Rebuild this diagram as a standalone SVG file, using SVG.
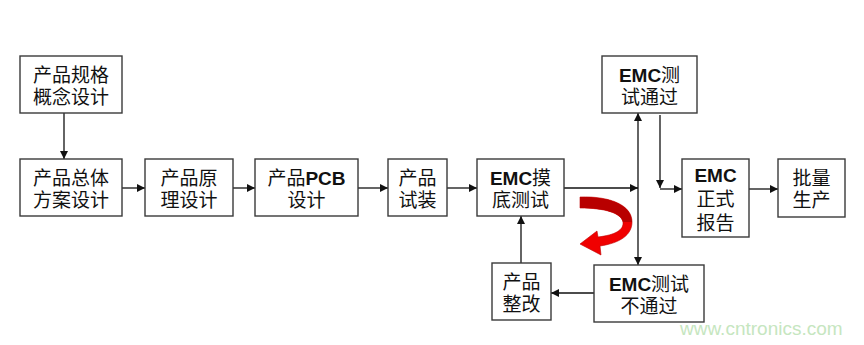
<svg xmlns="http://www.w3.org/2000/svg" width="864" height="345" viewBox="0 0 864 345">
<defs>
<style>
.box{fill:#fff;stroke:#3a3a3a;stroke-width:1.4}
.t{font-family:"Liberation Sans","Noto Sans CJK SC",sans-serif;font-size:19px;fill:#111;text-anchor:middle}
.b{font-weight:bold}
.c{fill:none;stroke:#111;stroke-width:1.3}
.wm{font-family:"Liberation Sans",sans-serif;font-size:19px;fill:#c6e6c0}
</style>
<marker id="ah" viewBox="0 0 10 10" refX="10" refY="5" markerWidth="9" markerHeight="8" markerUnits="userSpaceOnUse" orient="auto">
<path d="M0,0 L10,5 L0,10 Z" fill="#111"/>
</marker>
</defs>
<rect width="864" height="345" fill="#fff"/>
<g id="connectors">
<path class="c" d="M64,113 V159" marker-end="url(#ah)"/>
<path class="c" d="M122,188 H145" marker-end="url(#ah)"/>
<path class="c" d="M233,188 H255" marker-end="url(#ah)"/>
<path class="c" d="M358,188 H388" marker-end="url(#ah)"/>
<path class="c" d="M447,188 H477" marker-end="url(#ah)"/>
<path class="c" d="M564,188 H638" marker-end="url(#ah)"/>
<path class="c" d="M638,188 V113" marker-end="url(#ah)"/>
<path class="c" d="M638,188 V265" marker-end="url(#ah)"/>
<path class="c" d="M660,115 V188" marker-end="url(#ah)"/>
<path class="c" d="M660,189 H682" marker-end="url(#ah)"/>
<path class="c" d="M749,189 H778" marker-end="url(#ah)"/>
<path class="c" d="M594,293 H551" marker-end="url(#ah)"/>
<path class="c" d="M521,263 V216" marker-end="url(#ah)"/>
</g>
<g id="red-arrow">
<path d="M580,197 C610,196 632,205 632,222 C632,235 620,243 600,246 L601,255 L580,244 L597,231 L598,237 C615,235 624,230 623,222 C621,213 605,208 580,208 Z" fill="#f00000" stroke="#c00000" stroke-width="0.6"/>
<path d="M580,197 C610,196 632,205 632,222 L623,222 C621,213 605,208 580,208 Z" fill="#b80000"/>
</g>
<g id="n1"><rect class="box" x="20" y="56" width="102" height="57"/><text class="t" x="71" y="82">产品规格</text><text class="t" x="71" y="104">概念设计</text></g>
<g id="n2"><rect class="box" x="20" y="159" width="102" height="57"/><text class="t" x="71" y="185">产品总体</text><text class="t" x="71" y="207">方案设计</text></g>
<g id="n3"><rect class="box" x="145" y="159" width="88" height="57"/><text class="t" x="189" y="185">产品原</text><text class="t" x="189" y="207">理设计</text></g>
<g id="n4"><rect class="box" x="255" y="159" width="103" height="57"/><text class="t" x="306.5" y="185">产品<tspan class="b">PCB</tspan></text><text class="t" x="306.5" y="207">设计</text></g>
<g id="n5"><rect class="box" x="388" y="159" width="59" height="57"/><text class="t" x="417.5" y="185">产品</text><text class="t" x="417.5" y="207">试装</text></g>
<g id="n6"><rect class="box" x="477" y="159" width="87" height="57"/><text class="t" x="520.5" y="185"><tspan class="b">EMC</tspan>摸</text><text class="t" x="520.5" y="207">底测试</text></g>
<g id="n7"><rect class="box" x="492" y="263" width="59" height="57"/><text class="t" x="521.5" y="289">产品</text><text class="t" x="521.5" y="311">整改</text></g>
<g id="n8"><rect class="box" x="594" y="265" width="110" height="57"/><text class="t" x="649" y="291"><tspan class="b">EMC</tspan>测试</text><text class="t" x="649" y="313">不通过</text></g>
<g id="n9"><rect class="box" x="602" y="56" width="95" height="57"/><text class="t" x="649.5" y="82"><tspan class="b">EMC</tspan>测</text><text class="t" x="649.5" y="104">试通过</text></g>
<g id="n10"><rect class="box" x="682" y="159" width="67" height="78"/><text class="t b" x="715.5" y="182">EMC</text><text class="t" x="715.5" y="206">正式</text><text class="t" x="715.5" y="230">报告</text></g>
<g id="n11"><rect class="box" x="778" y="159" width="67" height="58"/><text class="t" x="811.5" y="185">批量</text><text class="t" x="811.5" y="207">生产</text></g>
<text class="wm" x="680" y="335">www.cntronics.com</text>
</svg>
